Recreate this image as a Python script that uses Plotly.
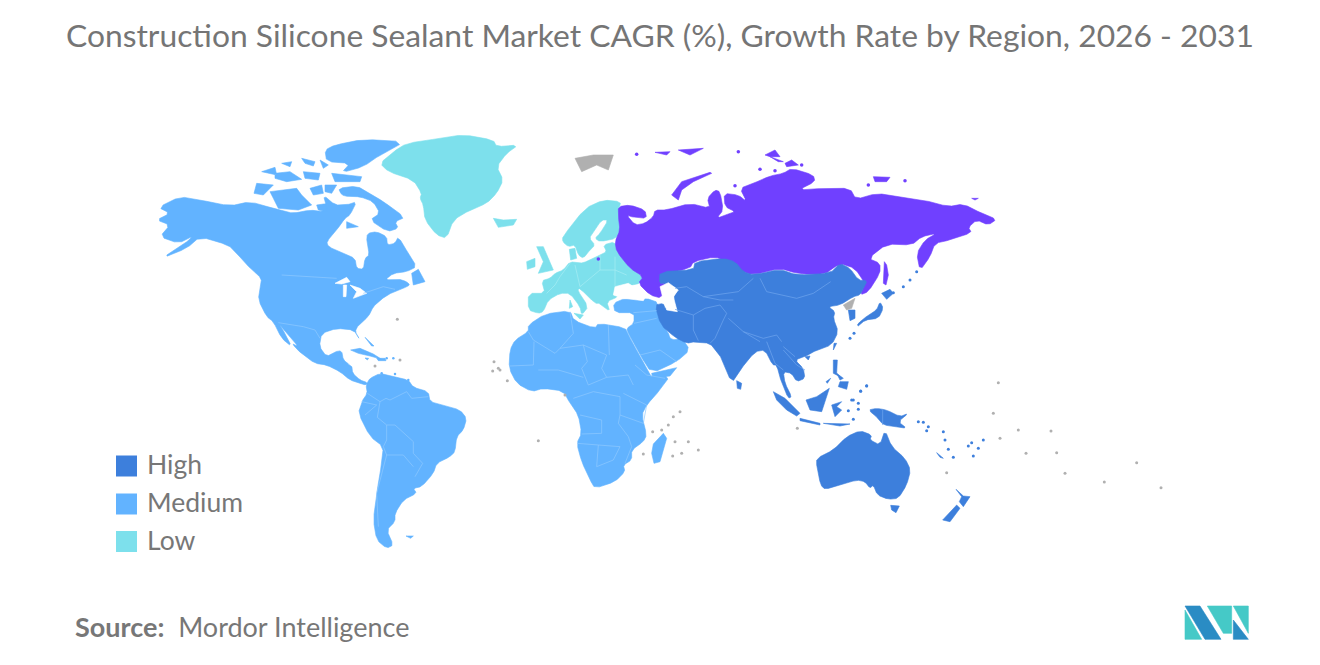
import plotly.graph_objects as go

TITLE = "Construction Silicone Sealant Market CAGR (%), Growth Rate by Region, 2026 - 2031"
CATEGORIES = ["High", "Medium", "Low"]
CATEGORY_COLORS = ["#3d7fdc", "#62b3ff", "#7de0ec"]
RUSSIA_COLOR = "#7040ff"
NODATA_COLOR = "#b0b0b0"

def tile(x0, y0, pts):
    return [(x0 + a / 3, y0 + b / 3) for a, b in pts]

NA = (150, 130)   # crop origins used when tracing
SA = (280, 330)
AF = (500, 290)
EU = (500, 130)
RU = (610, 140)
AS = (620, 250)
OC = (790, 370)

NORTH_AMERICA = tile(*NA, [(25,232),(90,200),(150,210),(240,228),(300,215),(370,235),(395,242),(430,250),(480,240),(520,245),(530,232),(520,195),(555,225),(590,225),(620,215),(600,255),(585,265),(560,300),(530,335),(535,350),(580,370),(615,385),(620,415),(640,418),(645,385),(658,375),(650,335),(652,310),(680,305),(710,320),(712,345),(735,340),(745,320),(775,370),(800,410),(770,425),(730,430),(705,450),(745,447),(770,455),(780,465),(760,475),(730,485),(690,510),(670,530),(655,560),(625,585),(615,605),(630,630),(612,600),(560,595),(515,610),(508,650),(530,680),(555,665),(575,662),(580,690),(600,705)]) + tile(*SA, [(180,100),(215,105),(218,130),(240,150),(262,158),(258,165),(240,160),(210,150),(180,125),(140,105),(105,100),(65,72),(35,40)]) + tile(*NA, [(445,650),(415,615),(385,578),(405,610),(425,650),(395,625),(370,575),(350,560),(325,510),(330,470),(335,445),(305,420),(260,370),(235,345),(150,320),(110,355),(35,385),(105,340),(130,318),(85,340),(30,320),(60,285),(20,270),(60,250)])
NEWFOUNDLAND = tile(*NA, [(785,430),(805,418),(825,455),(790,465)])
BAFFIN = tile(*NA, [(565,175),(620,168),(660,190),(700,215),(765,262),(735,275),(745,295),(712,305),(660,270),(690,250),(670,215),(630,200),(595,200),(575,195)])
SOUTHAMPTON = tile(*NA, [(590,275),(625,290),(590,295)])
VICTORIA = tile(*NA, [(360,185),(440,175),(455,195),(485,225),(445,240),(385,235),(370,205)])
BANKS = tile(*NA, [(320,160),(370,165),(340,195),(312,190)])
ARCTIC_A = tile(*NA, [(480,175),(515,165),(520,190),(490,195)])
ARCTIC_B = tile(*NA, [(525,165),(560,165),(545,190),(525,185)])
ARCTIC_C = tile(*NA, [(500,225),(535,220),(530,245),(505,240)])
ELLESMERE = tile(*NA, [(555,45),(640,28),(765,35),(690,75),(640,110),(575,128),(600,100),(530,95),(525,60)])
DEVON = tile(*NA, [(545,130),(635,140),(630,155),(555,155)])
ARCTIC_D = tile(*NA, [(510,90),(535,105),(520,115)])
ARCTIC_E = tile(*NA, [(455,85),(495,95),(490,108),(465,100)])
ARCTIC_F = tile(*NA, [(335,125),(375,112),(380,135)])
ARCTIC_G = tile(*NA, [(375,130),(420,125),(455,148),(410,155),(375,145)])
ARCTIC_H = tile(*NA, [(395,100),(425,95),(420,110)])
ARCTIC_I = tile(*NA, [(460,125),(510,130),(505,150),(465,145)])
SOUTH_AMERICA = tile(*SA, [(262,158),(270,145),(300,130),(340,140),(385,150),(400,172),(445,185),(450,215),(490,225),(540,240),(560,265),(550,300),(530,320),(525,365),(510,380),(470,400),(460,430),(425,470),(400,475),(410,490),(370,510),(345,550),(345,575),(320,600),(340,645),(320,655),(290,630),(280,570),(290,490),(305,400),(310,350),(270,320),(235,250),(245,215),(262,190),(258,165)])
FALKLANDS = tile(*SA, [(378,618),(400,618),(392,625)])
CUBA = tile(*SA, [(212,60),(240,55),(280,72),(305,88),(270,78),(235,70)])
HISPANIOLA = tile(*SA, [(290,85),(315,85),(318,92),(295,92)])
JAMAICA = tile(*SA, [(255,84),(266,85),(262,90)])
BAHAMAS = tile(*SA, [(255,22),(262,28),(282,48),(275,48)])
AFRICA = tile(*AF, [(85,105),(135,72),(210,62),(222,92),(285,115),(295,100),(375,113),(385,135),(415,190),(445,245),(455,262),(510,258),(480,300),(440,345),(425,375),(440,435),(430,455),(395,480),(395,510),(370,525),(375,545),(345,575),(285,595),(270,570),(245,515),(230,460),(245,430),(235,375),(210,340),(190,303),(130,295),(95,305),(50,280),(27,235),(30,180),(45,150),(85,125)])
MIDDLE_EAST = tile(*AF, [(340,40),(375,25),(465,28),(480,60),(480,90),(505,128),(510,145),(525,150),(545,143),(570,180),(530,215),(455,250),(420,195),(385,130),(380,115),(402,100),(402,68),(345,68)])
HORN_GAP = tile(*AF, [(455,250),(530,233),(510,258),(458,264)])
MADAGASCAR = tile(*AF, [(490,430),(500,445),(480,515),(462,520),(455,490),(460,462)])
GREENLAND = tile(*NA, [(690,100),(730,65),(770,40),(870,25),(940,14),(1030,30),(1040,50),(1105,45),(1070,70),(1040,110),(1060,150),(1040,190),(1010,220),(960,240),(910,270),(890,325),(860,315),(825,270),(820,225),(810,205),(815,190),(790,150),(715,125)])
ICELAND = tile(*NA, [(1030,265),(1060,270),(1100,268),(1090,285),(1045,292)])
SCANDINAVIA = tile(*EU, [(188,320),(255,235),(310,210),(362,215),(358,235),(370,290),(350,325),(300,335),(285,325),(300,310),(325,270),(305,270),(280,305),(268,325),(285,345),(270,360),(250,385),(235,375),(225,345),(205,350),(188,335)])
DENMARK = tile(*EU, [(208,358),(225,355),(230,385),(212,390)])
EUROPE = tile(*EU, [(85,490),(135,490),(125,452),(150,445),(165,430),(190,420),(210,395),(240,400),(260,395),(300,375),(320,365),(310,345),(345,335),(360,370),(380,405),(430,440),(420,460),(395,465),(345,475),(340,495),(355,500),(320,515),(330,545),(300,520),(285,520),(240,475),(232,480),(265,530),(245,555),(240,530),(210,490),(180,490),(145,510),(130,545),(115,550),(85,540)])
BRITAIN = tile(*EU, [(110,350),(130,350),(160,420),(115,430),(130,395)])
IRELAND = tile(*EU, [(80,395),(105,385),(105,410),(82,418)])
SICILY = tile(*EU, [(222,550),(250,555),(240,567)])
SARDINIA = tile(*EU, [(210,510),(218,530),(208,535)])
RUSSIA = tile(*RU, [(25,200),(60,195),(105,210),(110,235),(70,232),(50,225),(75,255),(105,250),(130,230),(135,210),(170,210),(240,190),(300,205),(292,175),(315,150),(330,155),(340,210),(320,235),(360,220),(375,215),(345,200),(342,160),(385,165),(410,185),(390,145),(430,130),(480,108),(520,100),(545,85),(610,105),(615,125),(565,150),(640,145),(720,145),(738,178),(800,160),(870,170),(940,180),(1015,200),(1060,192),(1115,220),(1160,238),(1135,255),(1100,240),(1075,262),(1085,278),(1020,300),(975,310),(960,350),(930,392),(920,340),(945,300),(980,280),(935,290),(905,315),(830,312),(775,355),(810,370),(810,400),(775,455),(750,465),(765,430),(735,385),(690,370),(640,405),(560,400),(510,385),(430,405),(380,390),(350,365),(315,350),(250,365),(240,385),(150,405),(150,430),(170,430),(155,475),(120,465),(85,430),(100,410),(60,385),(20,335),(15,305),(30,270),(25,230)])
NOVAYA_ZEMLYA = tile(*RU, [(185,165),(215,125),(300,97),(305,100),(250,125),(215,150),(205,180)])
SAKHALIN = tile(*RU, [(823,365),(830,375),(835,405),(828,435),(820,430)])
SEVERNAYA_A = tile(*RU, [(465,45),(495,30),(510,50),(480,50)])
SEVERNAYA_B = tile(*RU, [(480,50),(520,65),(505,65)])
SEVERNAYA_C = tile(*RU, [(525,70),(545,60),(565,75),(530,80)])
NEW_SIBERIAN = tile(*RU, [(790,110),(840,112),(830,125),(795,125)])
WRANGEL = tile(*RU, [(1085,175),(1105,175),(1095,180)])
FRANZ_JOSEF_A = tile(*RU, [(135,37),(180,35),(170,45)])
FRANZ_JOSEF_B = tile(*RU, [(205,30),(280,25),(240,45)])
ASIA = tile(*AS, [(120,65),(220,60),(225,35),(310,25),(345,35),(370,65),(400,75),(480,58),(530,75),(630,70),(660,40),(690,55),(715,90),(742,92),(730,115),(720,135),(700,140),(660,165),(625,170),(645,185),(640,205),(655,245),(635,285),(590,300),(555,320),(525,330),(550,355),(555,385),(530,395),(515,370),(490,365),(495,400),(515,440),(505,445),(485,400),(470,345),(458,345),(435,300),(405,305),(360,360),(335,400),(305,325),(290,305),(270,280),(225,275),(200,280),(165,262),(122,225),(105,165),(130,160),(135,175),(172,185),(160,145),(175,115),(135,100),(118,100)])
KOREA_S = tile(*AS, [(685,180),(705,180),(705,205),(690,212)])
HOKKAIDO = tile(*AS, [(785,130),(810,118),(820,130),(800,148)])
HONSHU = tile(*AS, [(780,155),(790,175),(775,205),(735,210),(715,230),(712,222),(745,195),(770,180)])
SRI_LANKA = tile(*AS, [(350,392),(365,400),(362,418),(352,415)])
TAIWAN = tile(*AS, [(642,280),(650,280),(640,300)])
HAINAN = tile(*AS, [(555,320),(570,318),(565,330)])
LUZON = tile(*AS, [(640,330),(652,330),(650,370),(660,380),(640,370)])
MINDANAO = tile(*AS, [(660,395),(685,395),(680,418),(655,410)])
VISAYAS = tile(*AS, [(650,370),(670,385),(660,390)])
PALAWAN = tile(*AS, [(618,395),(632,385),(622,400)])
SUMATRA = tile(*AS, [(460,425),(495,445),(540,490),(530,498),(500,480),(470,450)])
BORNEO = tile(*AS, [(558,450),(590,440),(628,415),(620,440),(605,485),(570,480)])
SULAWESI = tile(*AS, [(635,465),(665,455),(650,470),(665,480),(645,500)])
JAVA = tile(*AS, [(540,505),(600,520),(600,525),(540,512)])
LESSER_SUNDA = tile(*AS, [(610,520),(690,522),(660,528)])
NEW_GUINEA = tile(*AS, [(745,480),(770,475),(800,480),(840,500),(865,490),(835,515),(860,535),(830,530),(790,525),(775,505)])
AUSTRALIA = tile(*OC, [(80,265),(130,240),(170,200),(210,182),(245,195),(240,210),(270,225),(285,180),(305,230),(345,265),(362,300),(350,345),(325,385),(295,388),(262,375),(250,345),(240,355),(225,335),(200,330),(150,345),(105,358),(92,345),(80,290)])
TASMANIA = tile(*OC, [(302,406),(328,408),(318,428),(305,420)])
NZ_NORTH = tile(*OC, [(498,358),(520,378),(540,380),(520,410),(508,395),(515,380)])
NZ_SOUTH = tile(*OC, [(500,405),(510,415),(480,455),(458,450)])
NEW_CALEDONIA = tile(*OC, [(440,248),(460,265),(450,262)])
NORTH_KOREA = tile(*AS, [(670,165),(705,145),(695,175),(680,180)])
SVALBARD = tile(*EU, [(225,85),(280,75),(340,75),(325,120),(290,105),(245,125)])
CASPIAN = tile(*AS, [(120,110),(145,98),(175,120),(160,140),(172,185),(140,180),(130,150)])
BLACK_SEA = tile(*EU, [(345,470),(385,460),(440,495),(430,512),(370,505),(340,495)])
LAKE_SUPERIOR = tile(*NA, [(555,460),(590,442),(600,455),(575,462)])
LAKE_MICHIGAN = tile(*NA, [(580,465),(590,465),(588,500),(580,500)])
LAKE_HURON = tile(*NA, [(600,465),(630,475),(650,490),(610,505),(620,485)])
BAFFIN_LAKE = tile(*NA, [(652,240),(668,238),(668,250),(655,250)])

HIGH_ISLAND_DOTS = tile(*OC, [(385,155),(400,157),(415,170),(410,182),(460,185),(465,210),(475,238),(490,262),(535,228),(545,218),(550,258),(565,235),(580,210),(230,47),(212,63),(185,90),(205,100),(175,122),(190,148)]) + tile(*AS, [(702,250),(690,265),(740,408),(722,424),(700,450),(715,478)]) + tile(*RU, [(920,395),(900,420),(880,440),(850,458)])
RUSSIA_DOTS = tile(*RU, [(80,43),(385,35),(450,88),(495,92),(375,137),(575,75),(775,135),(885,122)]) + tile(*EU, [(295,387)])
CARIBBEAN_DOTS = tile(*SA, [(305,130),(345,132),(385,150),(320,85),(340,85)])
NODATA_DOTS = tile(*AF, [(458,425),(485,420),(430,492),(22,272),(0,240),(520,380),(540,365),(505,405),(525,455),(545,490),(518,498),(595,480),(565,455),(115,452),(195,315)]) + tile(*OC, [(1040,278),(825,310),(943,336),(1113,353),(800,248),(708,250),(470,308),(22,175),(625,38),(783,183),(610,130),(630,205),(685,180)]) + tile(*SA, [(642,95),(638,123),(655,115),(285,108),(360,90)]) + tile(*NA, [(742,568)])

BORDERS_MEDIUM = [
    tile(*NA, [(395,435),(560,445)]), tile(*NA, [(640,490),(700,470),(735,478)]),
    tile(*NA, [(385,578),(460,590),(495,600),(510,625)]),
    tile(*AF, [(210,65),(220,130),(180,175)]), tile(*AF, [(325,105),(328,195)]),
    tile(*AF, [(320,195),(305,235),(320,262)]), tile(*AF, [(102,155),(100,225),(30,228)]),
    tile(*AF, [(115,240),(175,240),(250,262)]),
    tile(*AF, [(180,175),(250,165),(262,215),(245,235),(265,285),(320,262),(385,255),(400,285)]),
    tile(*AF, [(85,125),(100,150),(165,190),(180,175)]), tile(*AF, [(250,165),(320,195)]),
    tile(*AF, [(405,225),(440,255),(495,265)]), tile(*AF, [(220,325),(280,305),(360,320),(360,375),(355,400),(385,440)]),
    tile(*AF, [(240,375),(305,390),(305,430),(245,432)]), tile(*AF, [(232,460),(295,465),(290,530)]),
    tile(*AF, [(295,465),(360,470),(340,510),(290,530)]), tile(*AF, [(370,310),(440,345),(430,400),(360,375)]),
    tile(*AF, [(385,440),(395,470),(375,520)]), tile(*AF, [(420,195),(480,180),(530,215)]),
    tile(*AF, [(400,68),(470,62)]), tile(*AF, [(402,100),(470,85)]),
    tile(*SA, [(262,190),(300,215),(318,205),(330,210),(380,185),(395,205),(445,200)]),
    tile(*SA, [(300,215),(292,262),(320,285),(345,285),(400,335),(400,370),(428,400),(405,440)]),
    tile(*SA, [(320,285),(320,330),(310,350),(320,375),(370,375),(400,410)]),
    tile(*SA, [(320,375),(290,490),(295,590)]), tile(*SA, [(245,215),(290,225),(255,255)]),
]
BORDERS_HIGH = [
    tile(*AS, [(165,115),(200,110),(250,140),(290,135),(355,125),(400,85)]),
    tile(*AS, [(420,85),(440,125),(530,145),(580,130),(632,95)]),
    tile(*AS, [(250,140),(300,150),(340,150)]), tile(*AS, [(220,195),(220,240),(235,272)]),
    tile(*AS, [(165,178),(220,195),(255,175),(300,165),(320,190)]),
    tile(*AS, [(320,190),(310,210),(285,265),(270,280)]),
    tile(*AS, [(325,205),(370,245),(430,265),(470,255),(485,275)]),
    tile(*AS, [(370,245),(420,275)]), tile(*AS, [(440,275),(465,340),(490,360)]),
    tile(*AS, [(490,300),(530,345),(555,360)]), tile(*AS, [(490,290),(525,320)]),
    tile(*AS, [(788,480),(788,525)]),
]
BORDERS_LOW = [
    tile(*EU, [(140,490),(165,465),(180,440),(210,400)]), tile(*EU, [(225,405),(240,470)]),
    tile(*EU, [(300,375),(300,420),(240,470)]), tile(*EU, [(345,380),(345,420),(380,435)]),
    tile(*EU, [(300,420),(345,420),(345,470)]),
]
LOGO_BLUE_LEFT = tile(1150, 590, [(105,48),(150,48),(213,148),(165,148)])
LOGO_TEAL_LEFT = tile(1150, 590, [(105,60),(155,148),(105,148)])
LOGO_TEAL_MID = tile(1150, 590, [(172,48),(245,48),(245,130),(220,130)])
LOGO_BLUE_RIGHT = tile(1150, 590, [(250,90),(295,148),(250,148)])
LOGO_TEAL_RIGHT = tile(1150, 590, [(250,48),(295,48),(295,130)])

def soften(poly, r=0.22):
    # rounds the traced corners of large outlines; small islands and logo pieces keep theirs
    if len(poly) < 8:
        return poly
    out = []
    for i, a in enumerate(poly):
        b = poly[(i + 1) % len(poly)]
        out.append((a[0] + (b[0] - a[0]) * r, a[1] + (b[1] - a[1]) * r))
        out.append((b[0] - (b[0] - a[0]) * r, b[1] - (b[1] - a[1]) * r))
    return out

def poly_xy(polys):
    xs, ys = [], []
    for poly in polys:
        poly = soften(poly)
        xs += [p[0] for p in poly] + [poly[0][0], None]
        ys += [p[1] for p in poly] + [poly[0][1], None]
    return xs, ys

def line_xy(lines):
    xs, ys = [], []
    for l in lines:
        xs += [p[0] for p in l] + [None]
        ys += [p[1] for p in l] + [None]
    return xs, ys

fig = go.Figure()

def fill(polys, color, name):
    x, y = poly_xy(polys)
    fig.add_trace(go.Scatter(x=x, y=y, mode="lines", fill="toself", fillcolor=color, name=name,
                             line=dict(color=color, width=0.6), hoverinfo="name", showlegend=False))

def lines(ls, color):
    x, y = line_xy(ls)
    fig.add_trace(go.Scatter(x=x, y=y, mode="lines", line=dict(color=color, width=0.7),
                             hoverinfo="skip", showlegend=False))

def dots(pts, color, size):
    fig.add_trace(go.Scatter(x=[p[0] for p in pts], y=[p[1] for p in pts], mode="markers",
                             marker=dict(color=color, size=size), hoverinfo="skip", showlegend=False))

HIGH, MEDIUM, LOW = CATEGORY_COLORS
fill([NORTH_AMERICA, NEWFOUNDLAND, BAFFIN, SOUTHAMPTON, VICTORIA, BANKS, ARCTIC_A, ARCTIC_B, ARCTIC_C, ELLESMERE, DEVON,
      ARCTIC_D, ARCTIC_E, ARCTIC_F, ARCTIC_G, ARCTIC_H, ARCTIC_I, SOUTH_AMERICA, FALKLANDS, CUBA, HISPANIOLA, JAMAICA,
      BAHAMAS, AFRICA, MIDDLE_EAST, HORN_GAP, MADAGASCAR], MEDIUM, "Medium")
fill([GREENLAND, ICELAND, SCANDINAVIA, DENMARK, EUROPE, BRITAIN, IRELAND, SICILY, SARDINIA], LOW, "Low")
fill([RUSSIA, NOVAYA_ZEMLYA, SAKHALIN, SEVERNAYA_A, SEVERNAYA_B, SEVERNAYA_C, NEW_SIBERIAN, WRANGEL, FRANZ_JOSEF_A, FRANZ_JOSEF_B], RUSSIA_COLOR, "Russia")
fill([ASIA, KOREA_S, HOKKAIDO, HONSHU, SRI_LANKA, TAIWAN, HAINAN, LUZON, MINDANAO, VISAYAS, PALAWAN, SUMATRA, BORNEO,
      SULAWESI, JAVA, LESSER_SUNDA, NEW_GUINEA, AUSTRALIA, TASMANIA, NZ_NORTH, NZ_SOUTH, NEW_CALEDONIA], HIGH, "High")
fill([NORTH_KOREA, SVALBARD], NODATA_COLOR, "No data")
fill([CASPIAN, BLACK_SEA, LAKE_SUPERIOR, LAKE_MICHIGAN, LAKE_HURON, BAFFIN_LAKE], "#ffffff", "Water")
lines(BORDERS_MEDIUM, "#8ec8ff")
lines(BORDERS_HIGH, "#6fa5ee")
lines(BORDERS_LOW, "#a6edf4")
dots(HIGH_ISLAND_DOTS, HIGH, 3)
dots(RUSSIA_DOTS, RUSSIA_COLOR, 3.5)
dots(CARIBBEAN_DOTS, MEDIUM, 2.5)
dots(NODATA_DOTS, NODATA_COLOR, 3)
fill([LOGO_BLUE_LEFT, LOGO_BLUE_RIGHT], "#2a8cc4", "logo")
fill([LOGO_TEAL_LEFT, LOGO_TEAL_MID, LOGO_TEAL_RIGHT], "#45c9c7", "logo")

LEGEND_X = [126.5, 126.5, 126.5]
LEGEND_Y = [466, 504, 541.5]
TEXT_Y = [464, 502, 540]
fig.add_trace(go.Scatter(x=LEGEND_X, y=LEGEND_Y, mode="markers", hoverinfo="skip", showlegend=False,
                         marker=dict(symbol="square", size=21, color=CATEGORY_COLORS)))
annotations = [dict(x=144.5, y=y, text=c, xanchor="left", yanchor="middle", showarrow=False,
                    font=dict(family="Lato", size=26.5, color="#777777")) for c, y in zip(CATEGORIES, TEXT_Y)]
annotations.append(dict(x=660, y=35, text=TITLE, xanchor="center", yanchor="middle", showarrow=False,
                        font=dict(family="Lato", size=31.8, color="#757575")))
annotations.append(dict(x=73, y=626, text="<b>Source:</b>  Mordor Intelligence", xanchor="left", yanchor="middle",
                        showarrow=False, font=dict(family="Lato", size=27, color="#777777")))

fig.update_layout(width=1320, height=665, margin=dict(l=0, r=0, t=0, b=0), paper_bgcolor="white", plot_bgcolor="white",
                  xaxis=dict(range=[0, 1320], visible=False, fixedrange=True),
                  yaxis=dict(range=[665, 0], visible=False, fixedrange=True),
                  annotations=annotations, hovermode="closest")
fig.write_html("out.html", config={"displayModeBar": False}, post_script="document.body.style.margin='0';document.body.style.overflow='hidden';")
